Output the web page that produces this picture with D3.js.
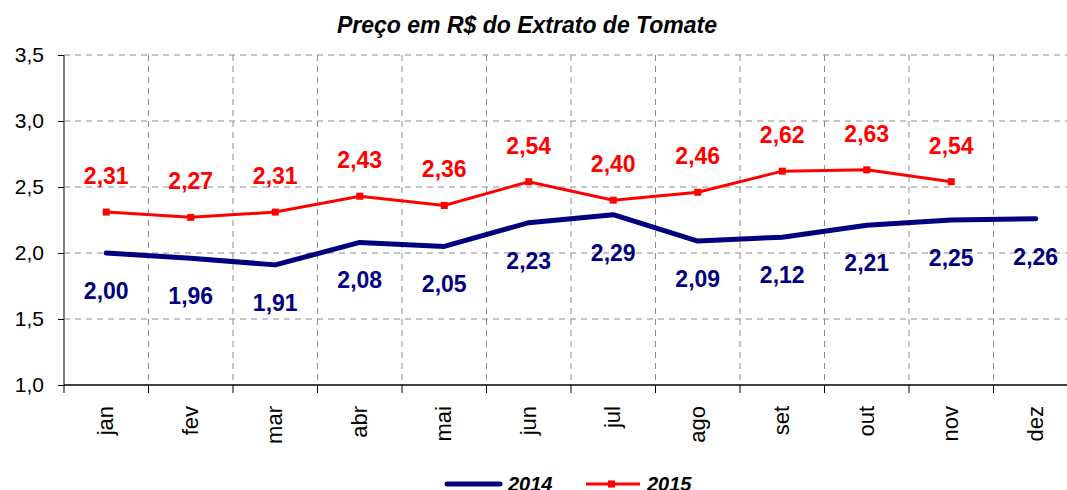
<!DOCTYPE html>
<html>
<head>
    <title>Preço em R$ do Extrato de Tomate</title>
    <script src="https://d3js.org/d3.v7.min.js"></script>
    <style>
        body { margin: 0; background: #fff; }
        text { font-family: Arial, "Liberation Sans", sans-serif; }
    </style>
</head>
<body>
    <div id="container"></div>
    <script>
        const width = 1067;
        const height = 490;
        const margin = { top: 55, right: -11, bottom: 105, left: 64 };

        const months = ['jan', 'fev', 'mar', 'abr', 'mai', 'jun', 'jul', 'ago', 'set', 'out', 'nov', 'dez'];
        const v2014 = [2.00, 1.96, 1.91, 2.08, 2.05, 2.23, 2.29, 2.09, 2.12, 2.21, 2.25, 2.26];
        const v2015 = [2.31, 2.27, 2.31, 2.43, 2.36, 2.54, 2.40, 2.46, 2.62, 2.63, 2.54];
        const yTicks = [1.0, 1.5, 2.0, 2.5, 3.0, 3.5];

        const fmt = v => v.toFixed(2).replace('.', ',');
        const fmtTick = v => v.toFixed(1).replace('.', ',');

        const x = d3.scaleBand()
            .domain(months)
            .range([margin.left, width - margin.right]);

        const y = d3.scaleLinear()
            .domain([1.0, 3.5])
            .range([height - margin.bottom, margin.top]);

        const cx = m => x(m) + x.bandwidth() / 2;

        const svg = d3.select("#container").append("svg")
            .attr("width", width)
            .attr("height", height);

        // title
        svg.append("text")
            .attr("x", 527)
            .attr("y", 33)
            .attr("text-anchor", "middle")
            .attr("font-size", 23)
            .attr("font-weight", "bold")
            .attr("font-style", "italic")
            .text("Preço em R$ do Extrato de Tomate");

        // grid
        const grid = svg.append("g")
            .attr("stroke", "#8c8c8c")
            .attr("stroke-dasharray", "6,5")
            .attr("stroke-width", 1);

        grid.selectAll(".h")
            .data(yTicks.slice(1))
            .join("line")
            .attr("x1", margin.left)
            .attr("x2", width - margin.right)
            .attr("y1", d => y(d))
            .attr("y2", d => y(d));

        grid.selectAll(".v")
            .data(months.slice(1))
            .join("line")
            .attr("x1", d => x(d))
            .attr("x2", d => x(d))
            .attr("y1", y(3.5))
            .attr("y2", y(1.0));

        // y axis
        const yAxis = svg.append("g")
            .attr("transform", `translate(${margin.left},0)`)
            .call(d3.axisLeft(y).tickValues(yTicks).tickFormat(fmtTick).tickSize(6).tickPadding(14));
        yAxis.select(".domain").attr("stroke", "#808080").attr("stroke-width", 2).attr("d", `M0,${y(3.5)}V${y(1.0)}`);
        yAxis.selectAll(".tick line").attr("stroke", "#000");
        yAxis.selectAll(".tick text")
            .attr("font-size", 21)
            .attr("font-family", "Arial, 'Liberation Sans', sans-serif")
            .attr("fill", "#000");

        // x axis
        const xAxisY = y(1.0);
        svg.append("line")
            .attr("x1", margin.left)
            .attr("x2", width - margin.right)
            .attr("y1", xAxisY)
            .attr("y2", xAxisY)
            .attr("stroke", "#000")
            .attr("stroke-width", 1.5);

        svg.selectAll(".xtick")
            .data(months)
            .join("line")
            .attr("x1", d => x(d))
            .attr("x2", d => x(d))
            .attr("y1", xAxisY)
            .attr("y2", xAxisY + 8)
            .attr("stroke", "#000");

        svg.selectAll(".xlabel")
            .data(months)
            .join("text")
            .attr("transform", d => `translate(${cx(d) + 7},${xAxisY + 21}) rotate(-90)`)
            .attr("text-anchor", "end")
            .attr("font-size", 22)
            .text(d => d);

        // lines
        const line = d3.line()
            .x((d, i) => cx(months[i]))
            .y(d => y(d));

        svg.append("path")
            .datum(v2014)
            .attr("fill", "none")
            .attr("stroke", "#000080")
            .attr("stroke-width", 5)
            .attr("stroke-linecap", "round")
            .attr("stroke-linejoin", "round")
            .attr("d", line);

        svg.append("path")
            .datum(v2015)
            .attr("fill", "none")
            .attr("stroke", "#ff0000")
            .attr("stroke-width", 3)
            .attr("d", line);

        svg.selectAll(".m15")
            .data(v2015)
            .join("rect")
            .attr("x", (d, i) => cx(months[i]) - 3.5)
            .attr("y", d => y(d) - 3.5)
            .attr("width", 7)
            .attr("height", 7)
            .attr("fill", "#ff0000");

        // data labels
        svg.selectAll(".l14")
            .data(v2014)
            .join("text")
            .attr("x", (d, i) => cx(months[i]))
            .attr("y", d => y(d) + 46)
            .attr("text-anchor", "middle")
            .attr("font-size", 23)
            .attr("font-weight", "bold")
            .attr("fill", "#000080")
            .text(fmt);

        svg.selectAll(".l15")
            .data(v2015)
            .join("text")
            .attr("x", (d, i) => cx(months[i]))
            .attr("y", d => y(d) - 28)
            .attr("text-anchor", "middle")
            .attr("font-size", 23)
            .attr("font-weight", "bold")
            .attr("fill", "#ff0000")
            .text(fmt);

        // legend
        const legend = svg.append("g");
        legend.append("line")
            .attr("x1", 447).attr("x2", 500)
            .attr("y1", 484).attr("y2", 484)
            .attr("stroke", "#000080").attr("stroke-width", 5)
            .attr("stroke-linecap", "round");
        legend.append("text")
            .attr("x", 508).attr("y", 491)
            .attr("font-size", 20).attr("font-weight", "bold").attr("font-style", "italic")
            .text("2014");
        legend.append("line")
            .attr("x1", 586).attr("x2", 640)
            .attr("y1", 484).attr("y2", 484)
            .attr("stroke", "#ff0000").attr("stroke-width", 3);
        legend.append("rect")
            .attr("x", 608).attr("y", 480.5).attr("width", 7).attr("height", 7)
            .attr("fill", "#ff0000");
        legend.append("text")
            .attr("x", 647).attr("y", 491)
            .attr("font-size", 20).attr("font-weight", "bold").attr("font-style", "italic")
            .text("2015");
    </script>
</body>
</html>
